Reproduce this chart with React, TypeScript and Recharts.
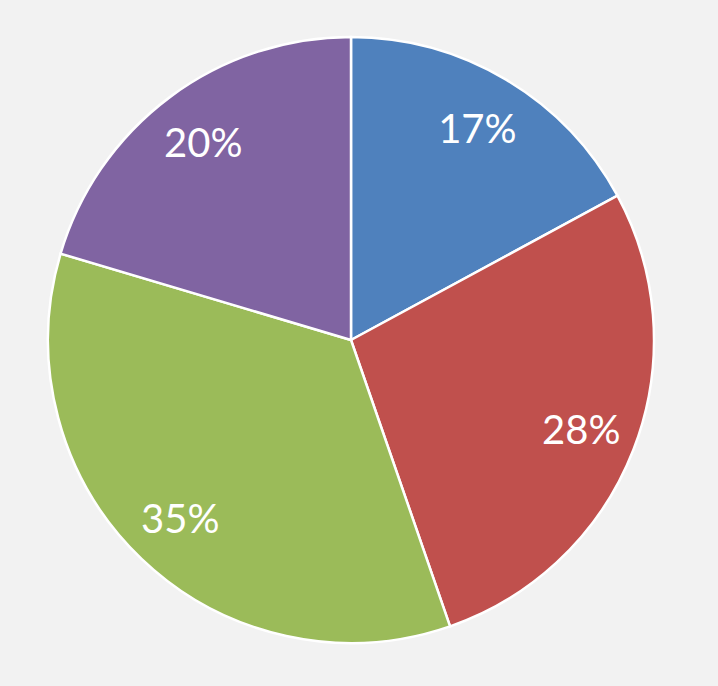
import React from 'react';
import { PieChart, Pie, Cell } from 'recharts';

const categories = ['Q1', 'Q2', 'Q3', 'Q4'];
const values = [17.1, 27.6, 34.9, 20.4];
const colors = ['#4F81BD', '#C0504D', '#9BBB59', '#8064A2'];

const data = categories.map((name, i) => ({ name, value: values[i] }));

const RADIAN = Math.PI / 180;

const renderLabel = (props: any) => {
  const { cx, cy, midAngle, percent } = props;
  const r = 247;
  const x = cx + r * Math.cos(-midAngle * RADIAN);
  const y = cy + r * Math.sin(-midAngle * RADIAN);
  return (
    <text
      x={x}
      y={y}
      fill="#ffffff"
      textAnchor="middle"
      dominantBaseline="central"
      fontFamily="Lato, 'Open Sans', sans-serif"
      fontSize={40}
    >
      {`${Math.round(percent * 100)}%`}
    </text>
  );
};

export default function App() {
  return (
    <div style={{ position: 'fixed', left: 0, top: 0, width: 718, height: 686, background: '#f2f2f2' }}>
      <PieChart width={718} height={686} margin={{ top: 0, right: 0, bottom: 0, left: 0 }}>
        <Pie
          data={data}
          dataKey="value"
          nameKey="name"
          cx={351}
          cy={340}
          outerRadius={303}
          startAngle={90}
          endAngle={-270}
          stroke="#ffffff"
          strokeWidth={2.5}
          label={renderLabel}
          labelLine={false}
          isAnimationActive={false}
        >
          {data.map((d, i) => (
            <Cell key={d.name} fill={colors[i]} />
          ))}
        </Pie>
      </PieChart>
    </div>
  );
}
